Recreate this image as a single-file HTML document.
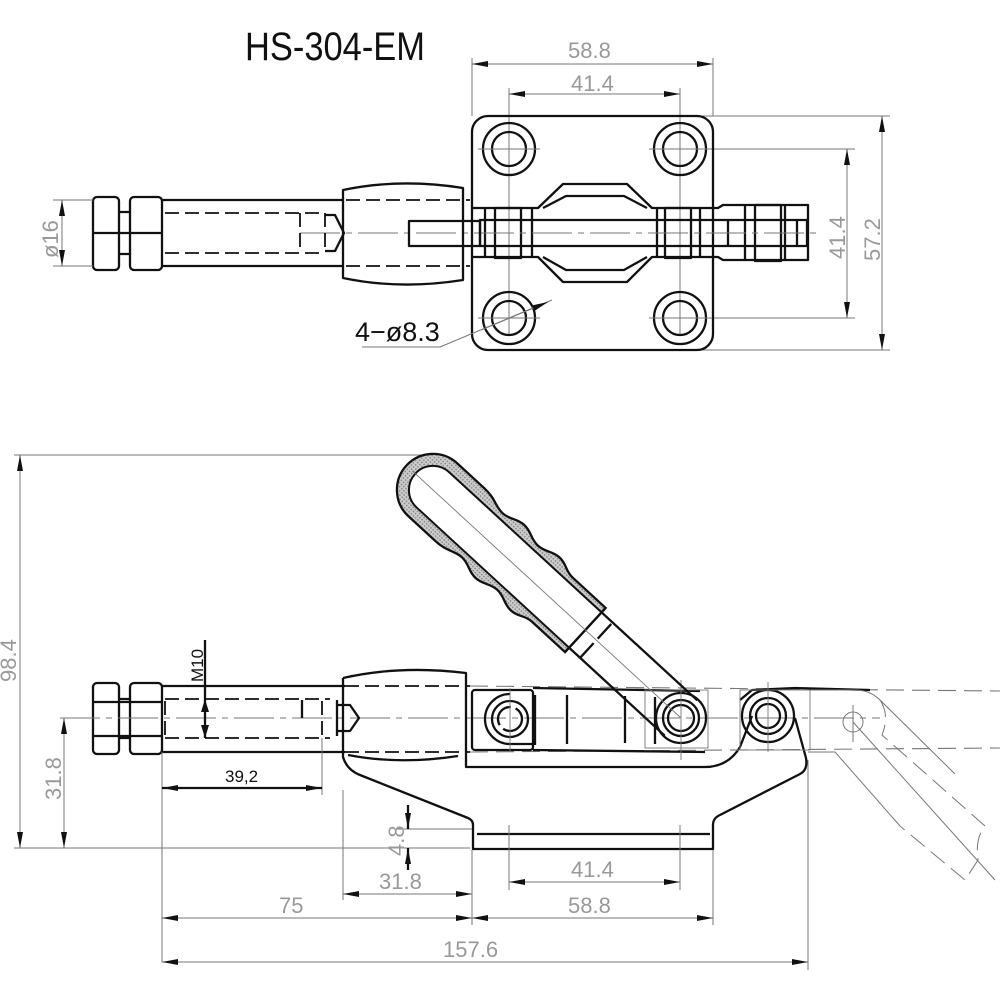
<!DOCTYPE html>
<html><head><meta charset="utf-8"><style>
html,body{margin:0;padding:0;background:#fff}
svg{display:block}
.b{fill:none;stroke:#111;stroke-width:2.3;stroke-linejoin:round}
.t{fill:none;stroke:#777;stroke-width:1}
.c{fill:none;stroke:#777;stroke-width:0.9}
.d{fill:none;stroke:#111;stroke-width:1.8;stroke-dasharray:14 6}
.p{fill:none;stroke:#777;stroke-width:1.1;stroke-dasharray:18 8}
.dt{font-family:"Liberation Sans",sans-serif;font-size:22px;fill:#999}
</style></head><body>
<svg width="1000" height="1000" viewBox="0 0 1000 1000" xmlns="http://www.w3.org/2000/svg">
<defs>
<marker id="a" viewBox="0 0 16 6" refX="16" refY="3" markerWidth="16" markerHeight="6" markerUnits="userSpaceOnUse" orient="auto-start-reverse"><path d="M0,0L16,3L0,6z" fill="#111"/></marker>
<pattern id="g" width="3" height="3" patternUnits="userSpaceOnUse"><rect width="3" height="3" fill="#ccc"/><rect width="1.5" height="1.5" fill="#888"/></pattern>
</defs>

<!-- title -->
<text x="245" y="60" font-family="Liberation Sans,sans-serif" font-size="40" fill="#111" textLength="180" lengthAdjust="spacingAndGlyphs">HS-304-EM</text>

<!-- ===== TOP VIEW ===== -->
<line class="t" x1="472" y1="58" x2="472" y2="116"/><line class="t" x1="713" y1="58" x2="713" y2="116"/>
<line class="t" x1="472" y1="64" x2="713" y2="64" marker-start="url(#a)" marker-end="url(#a)"/>
<text class="dt" x="568" y="58">58.8</text>
<line class="t" x1="509" y1="88" x2="509" y2="335"/><line class="t" x1="680" y1="88" x2="680" y2="335"/>
<line class="t" x1="509" y1="94" x2="680" y2="94" marker-start="url(#a)" marker-end="url(#a)"/>
<text class="dt" x="571" y="91">41.4</text>
<line class="t" x1="700" y1="116" x2="890" y2="116"/><line class="t" x1="700" y1="350" x2="890" y2="350"/>
<line class="t" x1="700" y1="149" x2="855" y2="149"/><line class="t" x1="700" y1="318" x2="855" y2="318"/>
<line class="t" x1="847" y1="149" x2="847" y2="318" marker-start="url(#a)" marker-end="url(#a)"/>
<line class="t" x1="882" y1="116" x2="882" y2="350" marker-start="url(#a)" marker-end="url(#a)"/>
<text class="dt" transform="translate(845,259) rotate(-90)">41.4</text>
<text class="dt" transform="translate(880,261) rotate(-90)">57.2</text>

<rect class="b" x="472" y="116" width="241" height="234" rx="16"/>
<g>
<circle class="b" cx="509" cy="149" r="26"/><circle class="b" cx="509" cy="149" r="17"/>
<circle class="b" cx="680" cy="149" r="26"/><circle class="b" cx="680" cy="149" r="17"/>
<circle class="b" cx="509" cy="318" r="26"/><circle class="b" cx="509" cy="318" r="17"/>
<circle class="b" cx="680" cy="318" r="26"/><circle class="b" cx="680" cy="318" r="17"/>
</g>
<g class="c">
<line x1="478" y1="149" x2="540" y2="149"/><line x1="649" y1="149" x2="711" y2="149"/>
<line x1="478" y1="318" x2="540" y2="318"/><line x1="649" y1="318" x2="711" y2="318"/>
</g>
<path class="b" d="M472,208 L538,208 L563,184 L627,184 L652,208 L718,208 L723,205 L808,205 L808,260 L723,260 L718,257 L652,257 L627,282 L563,282 L538,257 L472,257"/>
<path class="b" d="M543,208 L566,196 L624,196 L647,208 M543,257 L566,270 L624,270 L647,257"/>
<rect class="b" x="480" y="220" width="327" height="26" fill="#fff"/>
<line class="b" x1="728" y1="220" x2="728" y2="246"/><line class="b" x1="797" y1="220" x2="797" y2="246"/>
<g class="b" stroke-width="1.6">
<rect x="495" y="208" width="26" height="50"/><rect x="665" y="208" width="26" height="50"/><rect x="755" y="205" width="26" height="56"/>
<line x1="485" y1="208" x2="485" y2="257"/><line x1="532" y1="208" x2="532" y2="257"/>
<line x1="657" y1="208" x2="657" y2="257"/><line x1="700" y1="208" x2="700" y2="257"/>
<line x1="745" y1="205" x2="745" y2="260"/><line x1="785" y1="205" x2="785" y2="260"/>
</g>
<line class="c" x1="300" y1="233" x2="820" y2="233" stroke-dasharray="40 6 6 6"/>
<path class="b" d="M343,190 Q400,178 463,188 L463,280 Q400,290 343,278 Z"/>
<line class="d" x1="346" y1="200" x2="470" y2="200"/><line class="d" x1="346" y1="266" x2="470" y2="266"/>
<rect class="b" x="409" y="221" width="71" height="25" fill="#fff"/>
<path class="b" d="M162,200 L343,200 M162,266 L343,266"/>
<path class="d" d="M165,213 L325,213 M165,253 L325,253 M300,213 L300,253 M325,213 L325,253"/>
<path class="b" stroke-width="1.4" d="M325,215 L335,215 L344,233 L335,251 L325,251"/>
<rect class="b" x="93" y="197" width="26" height="73" rx="4"/>
<rect class="b" x="130" y="197" width="32" height="73" rx="4"/>
<line class="b" x1="93" y1="233" x2="162" y2="233"/>
<path class="b" d="M119,212 L130,212 M119,254 L130,254"/>
<line class="t" x1="53" y1="200" x2="93" y2="200"/><line class="t" x1="53" y1="266" x2="93" y2="266"/>
<line class="t" x1="62" y1="200" x2="62" y2="266" marker-start="url(#a)" marker-end="url(#a)"/>
<text class="dt" transform="translate(58,258) rotate(-90)">ø16</text>
<text x="355" y="341" font-family="Liberation Sans,sans-serif" font-size="27" fill="#111">4−ø8.3</text>
<polyline class="t" points="362,347 440,347 552,300"/>
<line class="t" x1="481" y1="330" x2="548" y2="302" marker-end="url(#a)"/>

<!-- ===== SIDE VIEW ===== -->
<line class="t" x1="14" y1="455" x2="430" y2="455"/>
<line class="t" x1="14" y1="848" x2="470" y2="848"/>
<line class="t" x1="20" y1="455" x2="20" y2="848" marker-start="url(#a)" marker-end="url(#a)"/>
<text class="dt" transform="translate(16,682) rotate(-90)">98.4</text>
<line class="t" x1="60" y1="718" x2="100" y2="718"/>
<line class="t" x1="64" y1="718" x2="64" y2="848" marker-start="url(#a)" marker-end="url(#a)"/>
<text class="dt" transform="translate(61,800) rotate(-90)">31.8</text>
<rect class="b" x="93" y="683" width="26" height="71" rx="4"/>
<rect class="b" x="130" y="683" width="32" height="71" rx="4"/>
<path class="b" stroke-width="1.6" d="M93,702 L162,702 M93,736 L162,736 M119,699 L130,699 M119,738 L130,738"/>
<path class="b" d="M162,686 L345,686 M162,752 L345,752"/>
<path class="d" d="M165,699 L330,699 M165,738 L330,738 M165,701 L165,736 M322,701 L322,736"/>
<line class="c" x1="60" y1="718" x2="880" y2="718" stroke-dasharray="40 6 6 6"/>
<line class="b" stroke-width="1.2" x1="302" y1="700" x2="302" y2="718"/>
<path class="b" stroke-width="1.4" d="M337,705 L350,705 L359,718 L350,731 L337,731"/>
<line class="b" stroke-width="1" x1="337" y1="700" x2="337" y2="736"/>
<line class="b" stroke-width="1.1" x1="205" y1="640" x2="205" y2="738"/>
<path d="M201,712 L205,699 L209,712z M201,725 L205,738 L209,725z" fill="#111"/>
<text transform="translate(203,682) rotate(-90)" font-family="Liberation Sans,sans-serif" font-size="17" fill="#111">M10</text>
<line class="t" x1="162" y1="752" x2="162" y2="962" />
<line class="t" x1="322" y1="738" x2="322" y2="795"/>
<line class="b" stroke-width="1" x1="162" y1="788" x2="322" y2="788" marker-start="url(#a)" marker-end="url(#a)"/>
<text x="225" y="782" font-family="Liberation Sans,sans-serif" font-size="17" fill="#111">39,2</text>

<path class="b" d="M343,678 Q400,665 466,673 L466,767 L705,767 Q728,767 740,747 L752,716"/>
<path class="b" d="M343,678 L343,757 Q347,770 360,775 L468,818 Q473,820 473,825 L473,849 L713,849 L713,825 Q713,818 720,815 L800,774 Q808,770 806,758 L795,718"/>
<line class="b" x1="477" y1="834" x2="710" y2="834" stroke-width="1.8"/>
<path class="b" stroke-width="2" d="M348,755 Q400,765 458,756"/>
<line class="d" x1="345" y1="686" x2="470" y2="686"/><line class="d" x1="345" y1="752" x2="470" y2="752"/>
<line class="p" x1="470" y1="686" x2="1000" y2="691"/><line class="p" x1="470" y1="752" x2="1000" y2="748"/>
<path class="b" d="M533,688 L700,691 M533,750 L705,752"/>
<rect class="b" x="472" y="690" width="61" height="60" rx="3"/>
<path class="b" d="M510,694 A24,24 0 0 0 510,744 L533,744"/>
<circle class="b" cx="510" cy="719" r="18"/><circle class="b" cx="510" cy="719" r="12" stroke-dasharray="26 5" stroke-width="1.6"/>
<path class="b" stroke-width="2" d="M535,695 L535,745 M567,695 L567,744 M625,696 L625,743 M655,697 L655,744"/>
<circle class="b" cx="681" cy="718" r="25"/><circle class="b" cx="681" cy="718" r="18"/><circle class="b" cx="681" cy="718" r="13" stroke-width="1.4"/>
<path class="b" d="M740,700 L752,690 L795,688 L870,690"/>
<circle class="b" cx="768" cy="716" r="26"/><circle class="b" cx="768" cy="716" r="18"/><circle class="b" cx="768" cy="716" r="12" stroke-width="1.4"/>
<g class="c"><rect x="645" y="690" width="63" height="58"/><rect x="740" y="690" width="70" height="60"/>
<line x1="681" y1="680" x2="681" y2="760"/><line x1="768" y1="682" x2="768" y2="752"/><line x1="510" y1="688" x2="510" y2="752"/></g>
<g class="t">
<path d="M808,690 L855,690 Q870,690 880,700 L955,774 M808,752 L835,752 L900,826"/>
<circle cx="853" cy="722" r="10"/>
<path d="M880,700 Q890,715 882,735 L985,826 Q975,838 978,860 L965,880 L900,826" stroke-dasharray="18 8"/>
<line x1="853" y1="722" x2="995" y2="880"/>
<line x1="853" y1="705" x2="853" y2="742"/>
</g>
<g transform="translate(681,718) rotate(222.6)">
<path class="b" d="M0,-24 L138,-24 M0,24 L138,24" />
<path d="M130,-30 L175,-30 C185,-30 188,-36 198,-36 C208,-36 212,-30 222,-30 C232,-30 236,-36 246,-36 C256,-36 260,-30 270,-30 C280,-30 285,-36 300,-36 L337,-36 A36,36 0 0 1 337,36 L300,36 C285,36 280,30 270,30 C260,30 256,36 246,36 C236,36 232,30 222,30 C212,30 208,36 198,36 C188,36 185,30 175,30 L130,30 Z" fill="url(#g)" stroke="#111" stroke-width="2.3"/>
<path d="M130,-24 L337,-24 A24,24 0 0 1 337,24 L130,24 Z" fill="#fff" stroke="#111" stroke-width="2"/>
<line class="b" stroke-width="1.8" x1="130" y1="-30" x2="130" y2="30"/>
<line class="b" stroke-width="1.6" x1="115" y1="-24" x2="115" y2="24" stroke-dasharray="20 6"/>
<line class="c" x1="0" y1="0" x2="365" y2="0"/>
</g>

<line class="t" x1="343" y1="790" x2="343" y2="900"/>
<line class="t" x1="472" y1="850" x2="472" y2="925"/>
<line class="t" x1="713" y1="850" x2="713" y2="925"/>
<line class="t" x1="509" y1="825" x2="509" y2="890"/>
<line class="t" x1="680" y1="825" x2="680" y2="890"/>
<line class="t" x1="808" y1="760" x2="808" y2="970"/>
<line class="t" x1="343" y1="894" x2="472" y2="894" marker-start="url(#a)" marker-end="url(#a)"/>
<text class="dt" x="379" y="889">31.8</text>
<line class="t" x1="509" y1="882" x2="680" y2="882" marker-start="url(#a)" marker-end="url(#a)"/>
<text class="dt" x="571" y="877">41.4</text>
<line class="t" x1="162" y1="918" x2="472" y2="918" marker-start="url(#a)" marker-end="url(#a)"/>
<text class="dt" x="279" y="913">75</text>
<line class="t" x1="472" y1="918" x2="713" y2="918" marker-start="url(#a)" marker-end="url(#a)"/>
<text class="dt" x="568" y="913">58.8</text>
<line class="t" x1="162" y1="962" x2="808" y2="962" marker-start="url(#a)" marker-end="url(#a)"/>
<text class="dt" x="443" y="957">157.6</text>
<line class="t" x1="396" y1="829" x2="472" y2="829"/>
<line class="b" stroke-width="1" x1="408" y1="805" x2="408" y2="829" marker-end="url(#a)"/>
<line class="b" stroke-width="1" x1="408" y1="870" x2="408" y2="848" marker-end="url(#a)"/>
<text class="dt" transform="translate(404,856) rotate(-90)">4.8</text>
</svg>
</body></html>
